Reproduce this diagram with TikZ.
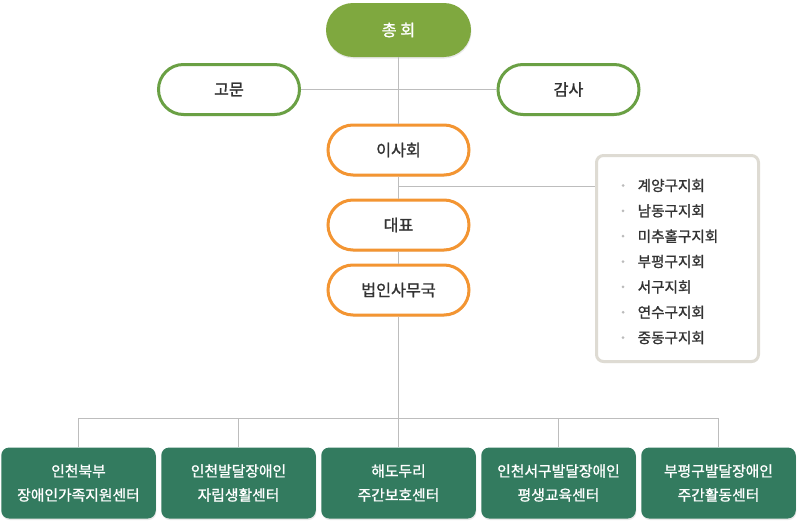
\documentclass[tikz,border=0pt]{standalone}
\usepackage{fontspec}
\setmainfont{Noto Sans CJK KR}[FakeBold=1.2]
\usetikzlibrary{shadows}
\definecolor{gtop}{HTML}{7FA83F}
\definecolor{gline}{HTML}{6AA044}
\definecolor{orng}{HTML}{F39532}
\definecolor{dgreen}{HTML}{337B5F}
\definecolor{conn}{HTML}{BDBDBD}
\definecolor{listb}{HTML}{DEDBD3}
\definecolor{txt}{HTML}{333333}
\definecolor{bul}{HTML}{BBBBBB}
\begin{document}
\begin{tikzpicture}[x=1pt,y=-1pt,
  shd/.style={drop shadow={opacity=0.18,shadow xshift=0.5pt,shadow yshift=-1.5pt}},
  pill/.style={draw, line width=3pt, fill=white, rounded corners=25pt,
    minimum width=141pt, minimum height=50pt, inner sep=0pt, text=txt,
    font=\fontsize{16.2}{19}\selectfont, shd},
  greenpill/.style={pill, draw=gline},
  orangepill/.style={pill, draw=orng},
  toppill/.style={fill=gtop, rounded corners=27pt, minimum width=145pt,
    minimum height=54pt, inner sep=0pt, text=white,
    font=\fontsize{16.2}{19}\selectfont, shd},
  center/.style={fill=dgreen, rounded corners=8pt, minimum width=154.5pt,
    minimum height=71pt, inner sep=0pt, text=white, align=center,
    font=\fontsize{14.8}{24}\selectfont, shd},
  listbox/.style={draw=listb, line width=3pt, fill=white, rounded corners=7pt,
    minimum width=162pt, minimum height=206pt, inner sep=0pt,
    drop shadow={opacity=0.12,shadow xshift=0.5pt,shadow yshift=-1.5pt}},
  item/.style={anchor=west, inner sep=0pt, text=txt, font=\fontsize{14.6}{17}\selectfont},
  dot/.style={circle, fill=bul, inner sep=0pt, minimum size=3pt},
  conn/.style={draw=conn, line width=1pt}
]
\useasboundingbox (0,0) rectangle (798,530);

\node[toppill] (ch) at (398.5,30) {총 회};
\node[greenpill] (gm) at (229,89.5) {고문};
\node[greenpill] (gs) at (568.5,89.5) {감사};
\node[orangepill] (is) at (398.5,150) {이사회};
\node[orangepill] (dp) at (398.5,225) {대표};
\node[orangepill] (sm) at (398.5,290) {법인사무국};

\node[listbox] (lb) at (677.5,258.5) {};
\foreach \t [count=\i from 0] in {계양구지회,남동구지회,미추홀구지회,부평구지회,서구지회,연수구지회,중동구지회}{
  \node[dot] (d\i) at (623,185.5+25.35*\i) {};
  \node[item] (t\i) at (637.5,185.5+25.35*\i) {\t};
}

\node[center] (c1) at (78.5,483) {인천북부\\장애인가족지원센터};
\node[center] (c2) at (238.5,483) {인천발달장애인\\자립생활센터};
\node[center] (c3) at (398.5,483) {해도두리\\주간보호센터};
\node[center] (c4) at (558.5,483) {인천서구발달장애인\\평생교육센터};
\node[center] (c5) at (718.5,483) {부평구발달장애인\\주간활동센터};

\coordinate (br) at (398.5,186.5);
\coordinate (bus) at (398.5,418.5);

\path[conn] (ch.south) -- (is.north);
\path[conn] (gm.east) -- (gs.west);
\path[conn] (is.south) -- (dp.north);
\path[conn] (br) -- (br -| lb.west);
\path[conn] (dp.south) -- (sm.north);
\path[conn] (sm.south) -- (bus);
\path[conn] (c1.north) |- (bus) -| (c5.north);
\path[conn] (c2.north) -- (c2.north |- bus);
\path[conn] (c3.north) -- (bus);
\path[conn] (c4.north) -- (c4.north |- bus);
\end{tikzpicture}
\end{document}
